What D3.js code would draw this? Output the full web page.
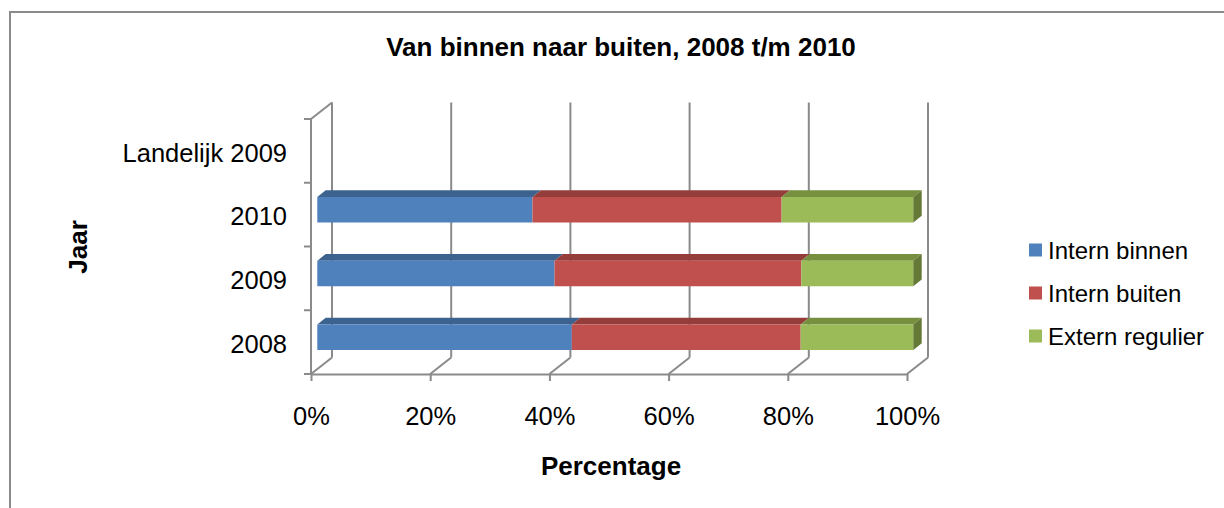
<!DOCTYPE html>
<html>
<head>
<meta charset="utf-8">
<script src="https://cdn.jsdelivr.net/npm/d3@7"></script>
<style>
  html, body { margin: 0; padding: 0; background: #fff; }
  svg text { font-family: "Liberation Sans", Arial, sans-serif; fill: #000; }
</style>
</head>
<body>
<svg id="chart" width="1224" height="508"></svg>
<script>
// ---- data ----
const categories = ["2008", "2009", "2010", "Landelijk 2009"];
const seriesNames = ["Intern binnen", "Intern buiten", "Extern regulier"];
const internBinnen   = [42.7, 39.8, 36.1, 0];
const internBuiten   = [38.4, 41.4, 41.8, 0];
const externRegulier = [18.9, 18.8, 22.1, 0];
const xTicks = [0, 0.2, 0.4, 0.6, 0.8, 1.0];
const title = "Van binnen naar buiten, 2008 t/m 2010";
const xTitle = "Percentage";
const yTitle = "Jaar";

// ---- styles ----
const frontCol = ["#4F81BD", "#C0504D", "#9BBB59"];
const topCol   = ["#3C638F", "#943D3B", "#77903F"];
const sideCol  = ["#345680", "#7F3432", "#637935"];
const gridCol  = "#8a8a8a";

const svg = d3.select("#chart");

// outer frame
svg.append("rect").attr("x", 10).attr("y", 12).attr("width", 1240).attr("height", 520)
  .attr("fill", "none").attr("stroke", "#8a8a8a").attr("stroke-width", 2);

// ---- scales ----
const x = d3.scaleLinear().domain([0, 1]).range([311, 907]);
const y = d3.scaleBand().domain(categories).range([374, 119])
  .paddingInner(0.6).paddingOuter(0.3);
const DX = 21, DY = -16.5;
const P = (v, yy, d) => [x(v) + d * DX, yy + d * DY];
const line = (a, b) => svg.append("line")
  .attr("x1", a[0]).attr("y1", a[1]).attr("x2", b[0]).attr("y2", b[1])
  .attr("stroke", gridCol).attr("stroke-width", 2);

const yTop = 119, yBot = 374;

// back wall gridlines + floor diagonals
xTicks.forEach(t => {
  line(P(t, yBot, 1), P(t, yTop, 1));
  line(P(t, yBot, 0), P(t, yBot, 1));
});
// left wall
line(P(0, yBot, 0), P(0, yTop, 0));
line(P(0, yTop, 0), P(0, yTop, 1));
// category boundary ticks
const steps = d3.range(categories.length + 1).map(i => yBot - i * y.step());
steps.forEach(v => line([304, v], [311, v]));

// x axis (front floor edge)
const xAxis = d3.axisBottom(x).tickValues(xTicks).tickFormat(d3.format(".0%"))
  .tickSize(7).tickSizeOuter(0).tickPadding(26);
const gx = svg.append("g").attr("transform", `translate(0,${yBot})`).call(xAxis);
gx.select(".domain").attr("stroke", gridCol).attr("stroke-width", 2);
gx.selectAll(".tick line").attr("stroke", gridCol).attr("stroke-width", 2);
gx.selectAll(".tick text").style("font-size", "25.5px").attr("fill", "#000");

// y axis labels
const yAxis = d3.axisLeft(y).tickSize(0).tickPadding(24);
const gy = svg.append("g").attr("transform", `translate(311,2.5)`).call(yAxis);
gy.select(".domain").remove();
gy.selectAll(".tick text").style("font-size", "25.5px").attr("fill", "#000");

// ---- bars ----
const table = categories.map((c, i) => ({
  cat: c,
  "Intern binnen": internBinnen[i],
  "Intern buiten": internBuiten[i],
  "Extern regulier": externRegulier[i]
}));
const stacked = d3.stack().keys(seriesNames).offset(d3.stackOffsetExpand)(table);

const d0 = 0.3, d1 = 0.7;
categories.forEach((c, ci) => {
  const bt = y(c), bb = y(c) + y.bandwidth();
  let lastIdx = -1;
  stacked.forEach((layer, si) => {
    const seg = layer[ci];
    if (seg[1] - seg[0] > 0) lastIdx = si;
  });
  stacked.forEach((layer, si) => {
    const seg = layer[ci];
    const v0 = seg[0], v1 = seg[1];
    if (!(v1 - v0 > 0)) return;
    const f = [P(v0, bt, d0), P(v1, bt, d0), P(v1, bb, d0), P(v0, bb, d0)];
    const tp = [P(v0, bt, d0), P(v1, bt, d0), P(v1, bt, d1), P(v0, bt, d1)];
    svg.append("polygon").attr("points", tp.join(" ")).attr("fill", topCol[si]);
    svg.append("polygon").attr("points", f.join(" ")).attr("fill", frontCol[si]);
    if (si === lastIdx) {
      const sd = [P(v1, bt, d0), P(v1, bt, d1), P(v1, bb, d1), P(v1, bb, d0)];
      svg.append("polygon").attr("points", sd.join(" ")).attr("fill", sideCol[si]);
    }
  });
});

// ---- titles ----
svg.append("text").attr("x", 621).attr("y", 56).attr("text-anchor", "middle")
  .style("font-size", "26px").style("font-weight", "bold").text(title);
svg.append("text").attr("x", 611).attr("y", 475).attr("text-anchor", "middle")
  .style("font-size", "26px").style("font-weight", "bold").text(xTitle);
svg.append("text").attr("transform", "translate(87,247) rotate(-90)")
  .attr("text-anchor", "middle")
  .style("font-size", "26px").style("font-weight", "bold").text(yTitle);

// ---- legend ----
const legY = [250, 293, 336];
seriesNames.forEach((s, i) => {
  svg.append("rect").attr("x", 1029).attr("y", legY[i] - 6.5).attr("width", 13).attr("height", 13)
    .attr("fill", frontCol[i]);
  svg.append("text").attr("x", 1048).attr("y", legY[i]).attr("dominant-baseline", "central")
    .style("font-size", "24px").text(s);
});
</script>
</body>
</html>
